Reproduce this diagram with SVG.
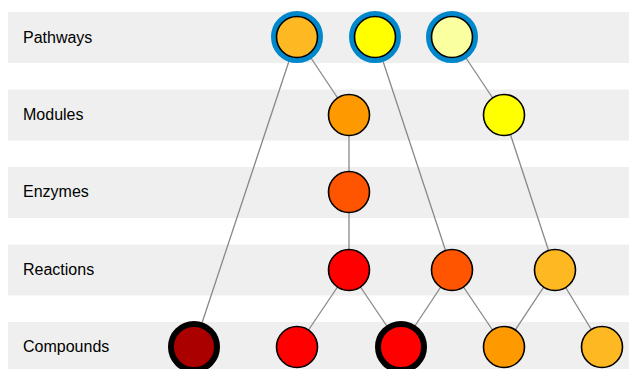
<svg xmlns="http://www.w3.org/2000/svg" width="629" height="369" viewBox="0 0 629 369">
<style>
.band{fill:#efefef}
.lbl{font-family:"Liberation Sans",Arial,sans-serif;font-size:16px;fill:#000}
.edge{stroke:#888;stroke-width:1.3;fill:none}
.n{stroke:#000;stroke-width:1.6}
.ringB{fill:none;stroke:#0088cc;stroke-width:6}
</style>
<rect width="629" height="369" fill="#fff"/>
<g id="bands">
<rect class="band" x="8" y="12" width="621" height="51"/>
<rect class="band" x="8" y="89.5" width="621" height="51"/>
<rect class="band" x="8" y="167" width="621" height="51"/>
<rect class="band" x="8" y="244.5" width="621" height="51"/>
<rect class="band" x="8" y="322" width="621" height="47"/>
<text class="lbl" x="23" y="42.5">Pathways</text>
<text class="lbl" x="23" y="120">Modules</text>
<text class="lbl" x="23" y="197">Enzymes</text>
<text class="lbl" x="23" y="274.5">Reactions</text>
<text class="lbl" x="23" y="352">Compounds</text>
</g>
<g id="connectors">
<line class="edge" x1="297" y1="37" x2="194" y2="347"/>
<line class="edge" x1="297" y1="37" x2="349" y2="115"/>
<line class="edge" x1="349" y1="115" x2="349" y2="192"/>
<line class="edge" x1="349" y1="192" x2="349" y2="270"/>
<line class="edge" x1="349" y1="270" x2="297" y2="347"/>
<line class="edge" x1="349" y1="270" x2="401" y2="347"/>
<line class="edge" x1="375" y1="37" x2="452" y2="270"/>
<line class="edge" x1="452" y1="270" x2="401" y2="347"/>
<line class="edge" x1="452" y1="270" x2="504" y2="347"/>
<line class="edge" x1="452" y1="37" x2="504" y2="115"/>
<line class="edge" x1="504" y1="115" x2="555" y2="270"/>
<line class="edge" x1="555" y1="270" x2="504" y2="347"/>
<line class="edge" x1="555" y1="270" x2="602" y2="347"/>
</g>
<g id="p1"><circle class="ringB" cx="297" cy="37" r="23"/><circle class="n" cx="297" cy="37" r="20.5" fill="#fdb822"/></g>
<g id="p2"><circle class="ringB" cx="375" cy="37" r="23"/><circle class="n" cx="375" cy="37" r="20.5" fill="#ffff00"/></g>
<g id="p3"><circle class="ringB" cx="452" cy="37" r="23"/><circle class="n" cx="452" cy="37" r="20.5" fill="#faffa0"/></g>
<g id="m1"><circle class="n" cx="349" cy="115" r="20.5" fill="#ff9900"/></g>
<g id="m2"><circle class="n" cx="504" cy="115" r="20.5" fill="#ffff00"/></g>
<g id="e1"><circle class="n" cx="349" cy="192" r="20.5" fill="#ff5500"/></g>
<g id="r1"><circle class="n" cx="349" cy="270" r="20.5" fill="#ff0000"/></g>
<g id="r2"><circle class="n" cx="452" cy="270" r="20.5" fill="#ff5500"/></g>
<g id="r3"><circle class="n" cx="555" cy="270" r="20.5" fill="#fdb822"/></g>
<g id="c1"><circle cx="194" cy="347" r="23" fill="#aa0000" stroke="#000" stroke-width="6"/></g>
<g id="c2"><circle class="n" cx="297" cy="347" r="20.5" fill="#ff0000"/></g>
<g id="c3"><circle cx="401" cy="347" r="23" fill="#ff0000" stroke="#000" stroke-width="6"/></g>
<g id="c4"><circle class="n" cx="504" cy="347" r="20.5" fill="#ff9900"/></g>
<g id="c5"><circle class="n" cx="602" cy="347" r="20.5" fill="#fdb822"/></g>
</svg>
